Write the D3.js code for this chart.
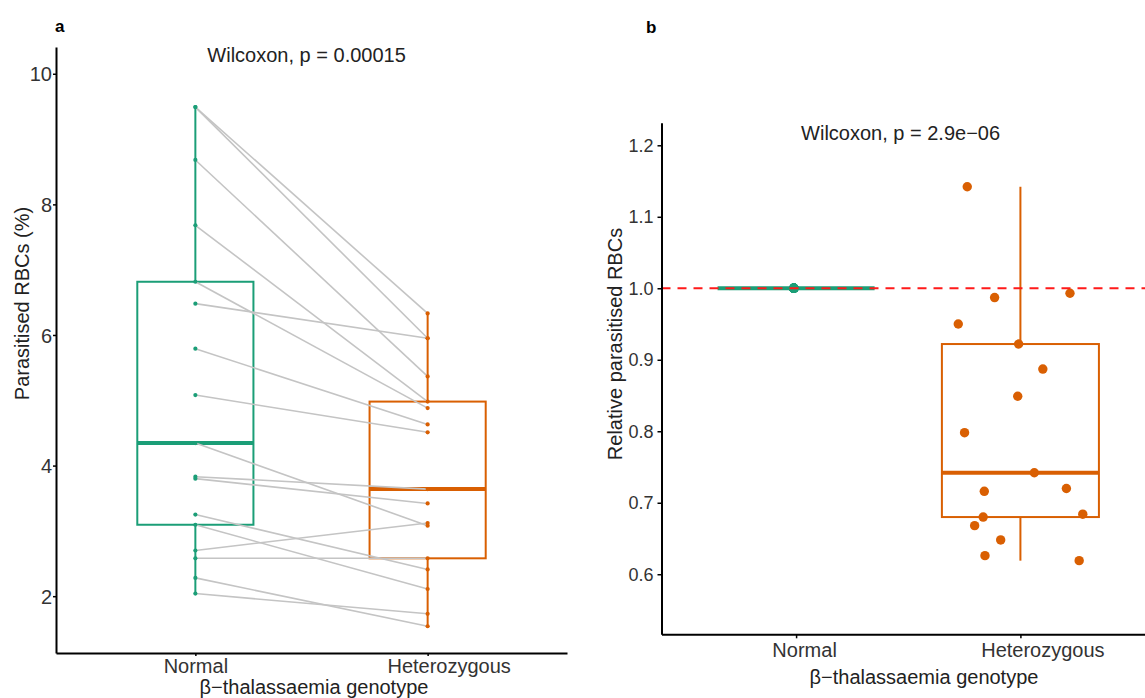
<!DOCTYPE html>
<html>
<head>
<meta charset="utf-8">
<script src="https://cdn.jsdelivr.net/npm/d3@7"></script>
<style>
  body { margin: 0; background: #fff; }
  svg { display: block; font-family: "Liberation Sans", Arial, sans-serif; }
</style>
</head>
<body>
<div id="chart"></div>
<script>

// ------------------------------------------------------------
// Data
// ------------------------------------------------------------

var groups = ["Normal", "Heterozygous"];

// (a) parasitised RBCs (%), one pair per donor (same index = same donor)
var normalPct = [9.49, 9.49, 8.68, 7.68, 6.815, 6.48, 5.79, 5.08, 4.345, 3.83, 3.80, 3.25, 3.094, 2.70, 2.58, 2.28, 2.04];
var hetPct    = [6.33, 5.95, 5.365, 4.98, 4.88, 5.95, 4.63, 4.51, 3.08, 3.64, 3.42, 2.41, 2.11, 3.12, 2.58, 1.54, 1.73];

// (b) parasitaemia relative to the matched normal sample
var relNormal = [1, 1, 1, 1, 1, 1, 1, 1, 1, 1, 1, 1, 1, 1, 1, 1, 1];
var relHet    = [1.142, 0.987, 0.993, 0.950, 0.922, 0.887, 0.849, 0.798, 0.742, 0.716, 0.720, 0.680, 0.684, 0.668, 0.648, 0.626, 0.619];
// horizontal jitter of the heterozygous points (fraction of category step)
var relHetJitter = [-0.237, -0.115, 0.221, -0.277, -0.008, 0.10, -0.012, -0.249, 0.062, -0.161, 0.205, -0.166, 0.278, -0.204, -0.088, -0.158, 0.262];
var relNormalJitter = [-0.01, -0.01, -0.01, -0.01, -0.01, -0.01, -0.01, -0.01, -0.01, -0.01, -0.01, -0.01, -0.01, -0.01, -0.01, -0.01, -0.01];

var ticksA = [2, 4, 6, 8, 10];
var ticksB = [0.6, 0.7, 0.8, 0.9, 1.0, 1.1, 1.2];

var pLabels = ["Wilcoxon, p = 0.00015", "Wilcoxon, p = 2.9e\u221206"];
var yTitles = ["Parasitised RBCs (%)", "Relative parasitised RBCs"];
var xTitle = "\u03b2\u2212thalassaemia genotype";

var colors = { Normal: "#1B9E77", Heterozygous: "#D95F02" };

// ------------------------------------------------------------
// Helpers
// ------------------------------------------------------------

var svg = d3.select("#chart").append("svg")
    .attr("width", 1145)
    .attr("height", 698);

function boxStats(values) {
  var s = values.slice().sort(d3.ascending);
  var q1 = d3.quantile(s, 0.25), med = d3.quantile(s, 0.5), q3 = d3.quantile(s, 0.75);
  var iqr = q3 - q1;
  return {
    q1: q1, med: med, q3: q3,
    lo: d3.min(s.filter(v => v >= q1 - 1.5 * iqr)),
    hi: d3.max(s.filter(v => v <= q3 + 1.5 * iqr))
  };
}

function drawBox(g, st, cx, halfW, y, color) {
  g.append("line")
    .attr("x1", cx).attr("x2", cx)
    .attr("y1", y(st.hi)).attr("y2", y(st.q3))
    .attr("stroke", color).attr("stroke-width", 2);
  g.append("line")
    .attr("x1", cx).attr("x2", cx)
    .attr("y1", y(st.q1)).attr("y2", y(st.lo))
    .attr("stroke", color).attr("stroke-width", 2);
  g.append("rect")
    .attr("x", cx - halfW).attr("y", y(st.q3))
    .attr("width", 2 * halfW).attr("height", y(st.q1) - y(st.q3))
    .attr("fill", "none").attr("stroke", color).attr("stroke-width", 2);
  g.append("line")
    .attr("x1", cx - halfW).attr("x2", cx + halfW)
    .attr("y1", y(st.med)).attr("y2", y(st.med))
    .attr("stroke", color).attr("stroke-width", 4);
}

function styleAxis(g, fontSize) {
  g.attr("font-family", null);
  g.select(".domain").attr("stroke", "#000").attr("stroke-width", 2);
  g.selectAll(".tick line").attr("stroke", "#000").attr("stroke-width", 1.5);
  g.selectAll(".tick text").attr("fill", "#333").attr("font-size", fontSize);
}

// ------------------------------------------------------------
// (a) paired box plot
// ------------------------------------------------------------

var xA = d3.scalePoint().domain(groups).range([56, 567]).padding(0.6);
var yA = d3.scaleLinear().domain([1.13, 10.41]).range([653, 47]);
var halfA = xA.step() * 0.25;

var gA = svg.append("g");

drawBox(gA, boxStats(normalPct), xA("Normal"), halfA, yA, colors.Normal);
drawBox(gA, boxStats(hetPct), xA("Heterozygous"), halfA, yA, colors.Heterozygous);

// lines joining each donor's two samples
gA.append("g").selectAll("line")
  .data(normalPct.map((v, i) => [v, hetPct[i]]))
  .join("line")
    .attr("x1", xA("Normal"))
    .attr("y1", d => yA(d[0]))
    .attr("x2", xA("Heterozygous"))
    .attr("y2", d => yA(d[1]))
    .attr("stroke", "#c4c4c4")
    .attr("stroke-width", 1.6);

gA.append("g").selectAll("circle")
  .data(normalPct)
  .join("circle")
    .attr("cx", xA("Normal"))
    .attr("cy", d => yA(d))
    .attr("r", 2.1)
    .attr("fill", colors.Normal);

gA.append("g").selectAll("circle")
  .data(hetPct)
  .join("circle")
    .attr("cx", xA("Heterozygous"))
    .attr("cy", d => yA(d))
    .attr("r", 2.1)
    .attr("fill", colors.Heterozygous);

var axA_y = gA.append("g")
  .attr("transform", "translate(56,0)")
  .call(d3.axisLeft(yA).tickValues(ticksA).tickSize(3).tickSizeOuter(0).tickPadding(1));
styleAxis(axA_y, 20);
axA_y.selectAll(".tick text").attr("dy", "0.36em");

var axA_x = gA.append("g")
  .attr("transform", "translate(0,653)")
  .call(d3.axisBottom(xA).tickSize(3).tickSizeOuter(0).tickPadding(2.5));
styleAxis(axA_x, 20);
axA_x.selectAll(".tick text").attr("dx", d => d === "Heterozygous" ? 21 : 0);

gA.append("text")
  .attr("x", xA("Normal") + 12)
  .attr("y", yA(10.18))
  .attr("font-size", 20)
  .attr("fill", "#222")
  .text(pLabels[0]);

gA.append("text")
  .attr("transform", "translate(29.3,303.5) rotate(-90)")
  .attr("text-anchor", "middle")
  .attr("font-size", 20)
  .attr("fill", "#222")
  .text(yTitles[0]);

gA.append("text")
  .attr("x", 314).attr("y", 694)
  .attr("text-anchor", "middle")
  .attr("font-size", 20)
  .attr("fill", "#222")
  .text(xTitle);

gA.append("text")
  .attr("x", 55).attr("y", 32)
  .attr("font-size", 17).attr("font-weight", "bold")
  .text("a");

// ------------------------------------------------------------
// (b) relative parasitaemia
// ------------------------------------------------------------

var xB = d3.scalePoint().domain(groups).range([661.5, 1155]).padding(0.6);
var yB = d3.scaleLinear().domain([0.516, 1.2316]).range([634.3, 122.7]);
var halfB = xB.step() * 0.35;

var gB = svg.append("g");

drawBox(gB, boxStats(relNormal), xB("Normal"), halfB, yB, colors.Normal);
drawBox(gB, boxStats(relHet), xB("Heterozygous"), halfB, yB, colors.Heterozygous);

gB.append("g").selectAll("circle")
  .data(relNormal)
  .join("circle")
    .attr("cx", (d, i) => xB("Normal") + relNormalJitter[i] * xB.step())
    .attr("cy", d => yB(d))
    .attr("r", 4.7)
    .attr("fill", colors.Normal);

gB.append("g").selectAll("circle")
  .data(relHet)
  .join("circle")
    .attr("cx", (d, i) => xB("Heterozygous") + relHetJitter[i] * xB.step())
    .attr("cy", d => yB(d))
    .attr("r", 4.7)
    .attr("fill", colors.Heterozygous);

// reference line at 1
gB.append("line")
  .attr("x1", 661.5).attr("x2", 1145)
  .attr("y1", yB(1)).attr("y2", yB(1))
  .attr("stroke", "#ff1a1a")
  .attr("stroke-width", 2)
  .attr("stroke-dasharray", "9,7");

var axB_y = gB.append("g")
  .attr("transform", "translate(661.5,0)")
  .call(d3.axisLeft(yB).tickValues(ticksB).tickFormat(d3.format(".1f")).tickSize(4).tickSizeOuter(0).tickPadding(4));
styleAxis(axB_y, 18);

var axB_x = gB.append("g")
  .attr("transform", "translate(0,634.3)")
  .call(d3.axisBottom(xB).tickSize(4).tickSizeOuter(0).tickPadding(4.2));
styleAxis(axB_x, 20);
axB_x.selectAll(".tick text").attr("dx", d => d === "Heterozygous" ? 22 : 8);

gB.append("text")
  .attr("x", xB("Normal") + 5)
  .attr("y", yB(1.208))
  .attr("font-size", 20)
  .attr("fill", "#222")
  .text(pLabels[1]);

gB.append("text")
  .attr("transform", "translate(621.7,344) rotate(-90)")
  .attr("text-anchor", "middle")
  .attr("font-size", 20)
  .attr("fill", "#222")
  .text(yTitles[1]);

gB.append("text")
  .attr("x", 924).attr("y", 684)
  .attr("text-anchor", "middle")
  .attr("font-size", 20)
  .attr("fill", "#222")
  .text(xTitle);

gB.append("text")
  .attr("x", 646).attr("y", 33)
  .attr("font-size", 17).attr("font-weight", "bold")
  .text("b");

</script>
</body>
</html>
